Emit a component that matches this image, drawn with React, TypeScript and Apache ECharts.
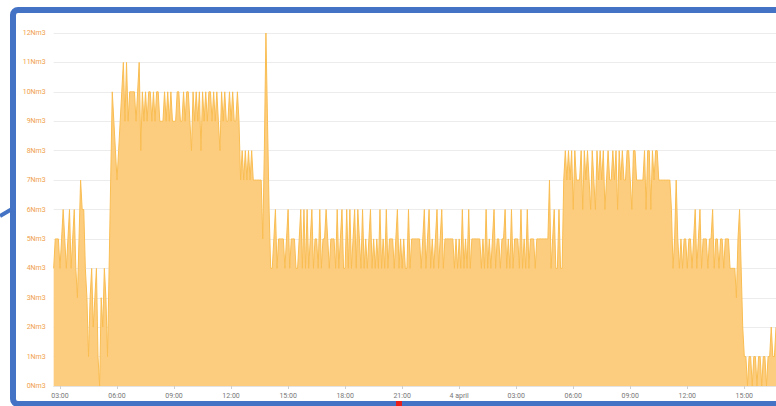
import React, { useEffect, useRef } from "react";
import * as echarts from "echarts";

// Sampling: one reading every 5 minutes, starting 3 April 02:40 (hours since 3 April 00:00)
const startHour = 2 + 40 / 60;
const stepHours = 5 / 60;

// Flow readings in Nm3, one row per hour (12 readings), starting 02:40
const flowValues: number[] = [
  4, 5, 5, 5, 4, 5, 6, 5, 4, 5, 6, 4,
  5, 6, 4, 3, 5, 7, 6, 6, 4, 3, 1, 3,
  4, 2, 3, 4, 1, 0, 3, 2, 4, 3, 1, 4,
  7, 10, 9, 8, 7, 8, 9, 10, 11, 9, 11, 9,
  10, 10, 10, 10, 9, 10, 11, 8, 10, 9, 10, 9,
  10, 10, 9, 10, 9, 10, 10, 9, 9, 9, 10, 9,
  10, 9, 10, 9, 9, 9, 10, 10, 9, 9, 10, 9,
  10, 10, 9, 8, 10, 9, 10, 9, 10, 8, 10, 9,
  10, 9, 10, 10, 9, 10, 9, 10, 9, 8, 10, 9,
  10, 9, 9, 10, 9, 10, 9, 9, 10, 9, 7, 8,
  7, 8, 7, 8, 7, 8, 7, 7, 7, 7, 7, 7,
  5, 8, 12, 9, 6, 4, 4, 5, 6, 4, 5, 5,
  5, 5, 4, 5, 6, 4, 5, 5, 5, 4, 4, 5,
  6, 4, 6, 4, 6, 4, 5, 6, 4, 5, 5, 4,
  6, 4, 5, 5, 6, 5, 4, 5, 5, 5, 4, 6,
  4, 5, 6, 4, 4, 6, 4, 6, 4, 5, 6, 4,
  6, 5, 4, 6, 4, 5, 4, 5, 6, 4, 5, 4,
  5, 4, 6, 4, 5, 4, 6, 4, 5, 5, 5, 4,
  5, 6, 4, 5, 4, 5, 4, 4, 6, 4, 5, 5,
  5, 5, 5, 5, 4, 5, 6, 4, 5, 6, 4, 5,
  4, 5, 6, 4, 5, 6, 4, 5, 5, 5, 5, 5,
  5, 4, 5, 4, 5, 4, 6, 4, 5, 4, 6, 4,
  5, 5, 5, 5, 5, 5, 4, 5, 4, 6, 4, 5,
  4, 5, 6, 4, 5, 5, 4, 5, 5, 6, 4, 5,
  4, 6, 4, 5, 5, 5, 4, 6, 4, 5, 4, 6,
  4, 5, 5, 5, 4, 5, 5, 5, 5, 5, 5, 5,
  5, 7, 4, 5, 6, 4, 4, 6, 4, 4, 7, 8,
  7, 8, 7, 8, 6, 8, 7, 7, 7, 8, 6, 8,
  7, 8, 7, 6, 8, 7, 6, 8, 7, 8, 7, 8,
  6, 7, 8, 7, 7, 8, 7, 8, 6, 8, 7, 8,
  7, 7, 8, 8, 7, 6, 8, 8, 7, 7, 7, 7,
  7, 8, 6, 8, 8, 6, 8, 7, 8, 8, 7, 7,
  7, 7, 7, 7, 7, 7, 6, 4, 5, 7, 5, 4,
  5, 4, 5, 5, 4, 5, 5, 4, 5, 6, 4, 5,
  6, 4, 5, 5, 5, 4, 5, 5, 6, 4, 5, 5,
  4, 5, 5, 4, 5, 5, 5, 4, 4, 4, 4, 3,
  5, 6, 4, 2, 1, 1, 0, 1, 1, 0, 1, 1,
  0, 1, 1, 0, 1, 1, 0, 1, 1, 2, 1, 1,
  2,
];

// X tick positions (hours since 3 April 00:00) and their labels
const xTickHours = [3, 6, 9, 12, 15, 18, 21, 24, 27, 30, 33, 36, 39];
const xTickLabels = [
  "03:00", "06:00", "09:00", "12:00", "15:00", "18:00", "21:00",
  "4 april", "03:00", "06:00", "09:00", "12:00", "15:00",
];

const yMax = 12;
const yUnit = "Nm3";

export default function App() {
  const ref = useRef<HTMLDivElement>(null);

  useEffect(() => {
    if (!ref.current) return;
    const chart = echarts.init(ref.current, undefined, { renderer: "svg" });
    const data = flowValues.map((v, i) => [startHour + i * stepHours, v]);
    const endHour = startHour + (flowValues.length - 1) * stepHours;

    chart.setOption({
      animation: false,
      backgroundColor: "#ffffff",
      textStyle: { fontFamily: "Roboto, sans-serif" },
      grid: { left: 53.66, right: 0, top: 33, bottom: 20, containLabel: false },
      xAxis: {
        type: "value",
        min: startHour,
        max: endHour,
        axisLine: { show: true, lineStyle: { color: "#e3e3e3", width: 1 } },
        axisTick: {
          show: true,
          customValues: xTickHours,
          length: 3,
          lineStyle: { color: "#cfcfcf" },
        },
        splitLine: { show: false },
        axisLabel: {
          customValues: xTickHours,
          color: "#777777",
          fontSize: 7,
          margin: 6,
          formatter: (v: number) => {
            const idx = xTickHours.findIndex((h) => Math.abs(h - v) < 1e-6);
            return idx >= 0 ? xTickLabels[idx] : "";
          },
        },
      },
      yAxis: {
        type: "value",
        min: 0,
        max: yMax,
        interval: 1,
        axisLine: { show: false },
        axisTick: { show: false },
        splitLine: { show: true, lineStyle: { color: "#ececec", width: 1 } },
        axisLabel: {
          color: "#f0a04b",
          fontSize: 7,
          margin: 8,
          formatter: (v: number) => `${v}${yUnit}`,
        },
      },
      series: [
        {
          type: "line",
          data,
          showSymbol: false,
          smooth: false,
          lineStyle: { color: "#f9bd52", width: 1 },
          areaStyle: { color: "#fdcd7f", opacity: 1 },
        },
      ],
      graphic: [
        {
          type: "rect",
          z: 100,
          shape: { x: 13, y: 10, width: 800, height: 394, r: 5 },
          style: { fill: "none", stroke: "#4472c4", lineWidth: 6 },
        },
        {
          type: "line",
          z: 100,
          shape: { x1: 0, y1: 216, x2: 12, y2: 209 },
          style: { stroke: "#4472c4", lineWidth: 4 },
        },
        {
          type: "rect",
          z: 101,
          shape: { x: 396, y: 401, width: 6, height: 5 },
          style: { fill: "#e8201c" },
        },
      ],
    });

    return () => chart.dispose();
  }, []);

  return (
    <div
      ref={ref}
      style={{ position: "absolute", left: 0, top: 0, width: 776, height: 406 }}
    />
  );
}
